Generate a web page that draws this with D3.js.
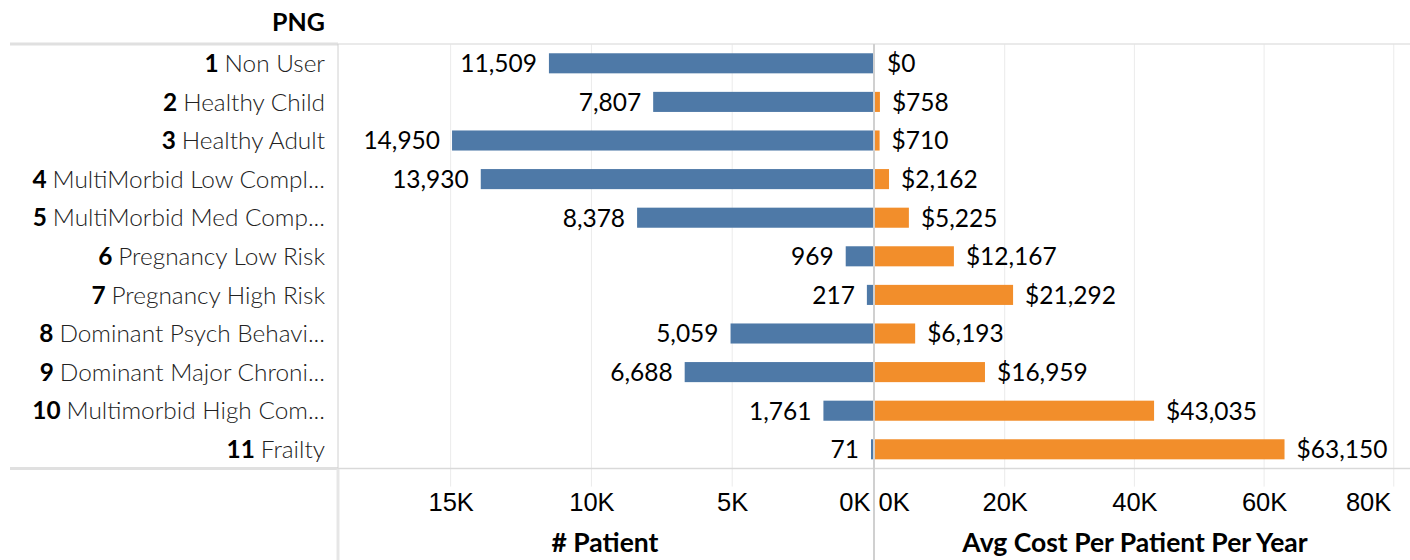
<!DOCTYPE html>
<html>
<head>
<meta charset="utf-8">
<title>PNG - Patients and Avg Cost</title>
<script src="https://cdn.jsdelivr.net/npm/d3@7"></script>
<style>
    body { margin: 0; background: #fff; }
    svg { display: block; font-family: Lato, "Open Sans", sans-serif; }
</style>
</head>
<body>
<svg id="chart" width="1410" height="560"></svg>
<script>
// Segment data
const segmentIds = ['1', '2', '3', '4', '5', '6', '7', '8', '9', '10', '11'];
const segmentNames = [
    'Non User', 'Healthy Child', 'Healthy Adult', 'MultiMorbid Low Compl...',
    'MultiMorbid Med Comp...', 'Pregnancy Low Risk', 'Pregnancy High Risk',
    'Dominant Psych Behavi...', 'Dominant Major Chroni...', 'Multimorbid High Com...', 'Frailty'
];
const patients = [11509, 7807, 14950, 13930, 8378, 969, 217, 5059, 6688, 1761, 71];
const avgCost = [0, 758, 710, 2162, 5225, 12167, 21292, 6193, 16959, 43035, 63150];
const patientTicks = [0, 5000, 10000, 15000];
const costTicks = [0, 20000, 40000, 60000, 80000];

const rows = segmentIds.map((id, i) => ({
    id: id,
    name: segmentNames[i],
    patients: patients[i],
    cost: avgCost[i]
}));

const svg = d3.select('#chart');
const plotTop = 44, plotBottom = 468.6;
const labelRight = 338, midLeft = 873, midRight = 875, plotRight = 1410;
const labelSize = 24.4;   // row labels
const valueSize = 24.5;   // bar value labels
const tickSize = 25.5;
const titleSize = 26.5;

const y = d3.scaleBand()
    .domain(segmentIds)
    .range([plotTop, plotBottom])
    .paddingInner(0.48)
    .paddingOuter(0.24);

const xLeft = d3.scaleLinear().domain([0, 19000]).range([midLeft, labelRight]);
const xRight = d3.scaleLinear().domain([0, 82500]).range([midRight, plotRight]);

const kFormat = d => (d / 1000) + 'K';
const numFormat = d3.format(',');

// Gridlines (extend a little into the axis area)
function grid(scale, ticks) {
    svg.append('g')
        .selectAll('line')
        .data(ticks.filter(t => t !== 0))
        .enter().append('line')
        .attr('x1', d => scale(d))
        .attr('x2', d => scale(d))
        .attr('y1', plotTop)
        .attr('y2', plotBottom + 18)
        .attr('stroke', '#ebebeb')
        .attr('stroke-width', 1);
}
grid(xLeft, patientTicks);
grid(xRight, costTicks);

// Frame lines
svg.append('line').attr('x1', 10).attr('x2', labelRight).attr('y1', plotTop).attr('y2', plotTop)
    .attr('stroke', '#e0e0e0').attr('stroke-width', 3);
svg.append('line').attr('x1', labelRight).attr('x2', plotRight).attr('y1', plotTop).attr('y2', plotTop)
    .attr('stroke', '#e3e3e3').attr('stroke-width', 1.5);
svg.append('line').attr('x1', 10).attr('x2', labelRight).attr('y1', plotBottom).attr('y2', plotBottom)
    .attr('stroke', '#e0e0e0').attr('stroke-width', 3);
svg.append('line').attr('x1', labelRight).attr('x2', plotRight).attr('y1', plotBottom).attr('y2', plotBottom)
    .attr('stroke', '#d9d9d9').attr('stroke-width', 1.5);
svg.append('line').attr('x1', labelRight).attr('x2', labelRight).attr('y1', plotTop).attr('y2', plotBottom)
    .attr('stroke', '#d0d0d0').attr('stroke-width', 1);
svg.append('line').attr('x1', labelRight).attr('x2', labelRight).attr('y1', plotBottom).attr('y2', 560)
    .attr('stroke', '#e6e6e6').attr('stroke-width', 3);
svg.append('line').attr('x1', 874).attr('x2', 874).attr('y1', plotTop).attr('y2', 560)
    .attr('stroke', '#d0d0d0').attr('stroke-width', 2);

// Title
svg.append('text')
    .attr('x', 325).attr('y', 31)
    .attr('text-anchor', 'end')
    .attr('font-size', 25)
    .attr('font-weight', 'bold')
    .text('PNG');

// Row labels
const labels = svg.append('g')
    .selectAll('text')
    .data(rows)
    .enter().append('text')
    .attr('x', 325)
    .attr('y', d => y(d.id) + y.bandwidth() / 2)
    .attr('dy', '0.36em')
    .attr('text-anchor', 'end')
    .attr('font-size', labelSize)
    .attr('fill', '#222');
labels.append('tspan').attr('font-weight', 'bold').attr('fill', '#000').text(d => d.id + ' ');
labels.append('tspan').attr('font-weight', 300).text(d => d.name);

// Patient bars (left)
svg.append('g')
    .selectAll('rect')
    .data(rows)
    .enter().append('rect')
    .attr('x', d => xLeft(d.patients))
    .attr('y', d => y(d.id))
    .attr('width', d => xLeft(0) - xLeft(d.patients))
    .attr('height', y.bandwidth())
    .attr('fill', '#4e79a7');

svg.append('g')
    .selectAll('text')
    .data(rows)
    .enter().append('text')
    .attr('x', d => xLeft(d.patients) - 12)
    .attr('y', d => y(d.id) + y.bandwidth() / 2)
    .attr('dy', '0.36em')
    .attr('text-anchor', 'end')
    .attr('font-size', valueSize)
    .attr('fill', '#000')
    .text(d => numFormat(d.patients));

// Cost bars (right)
svg.append('g')
    .selectAll('rect')
    .data(rows)
    .enter().append('rect')
    .attr('x', xRight(0))
    .attr('y', d => y(d.id))
    .attr('width', d => xRight(d.cost) - xRight(0))
    .attr('height', y.bandwidth())
    .attr('fill', '#f28e2b');

svg.append('g')
    .selectAll('text')
    .data(rows)
    .enter().append('text')
    .attr('x', d => xRight(d.cost) + 12)
    .attr('y', d => y(d.id) + y.bandwidth() / 2)
    .attr('dy', '0.36em')
    .attr('font-size', valueSize)
    .attr('fill', '#000')
    .text(d => '$' + numFormat(d.cost));

// Axes
function axis(scale, ticks, anchorFn) {
    const g = svg.append('g')
        .attr('transform', `translate(0,${plotBottom})`)
        .call(d3.axisBottom(scale).tickValues(ticks).tickFormat(kFormat).tickSize(0).tickPadding(0));
    g.select('.domain').remove();
    g.selectAll('text')
        .attr('y', 42)
        .attr('dy', 0)
        .attr('font-size', tickSize)
        .attr('font-family', null)
        .attr('fill', '#000')
        .attr('text-anchor', anchorFn)
        .attr('dx', d => anchorFn(d) === 'end' ? -3 : anchorFn(d) === 'start' ? 3 : 0);
}
axis(xLeft, patientTicks, d => d === 0 ? 'end' : 'middle');
axis(xRight, costTicks, d => d === 0 ? 'start' : d === 80000 ? 'end' : 'middle');

// Axis titles
svg.append('text')
    .attr('x', 605).attr('y', 552)
    .attr('text-anchor', 'middle')
    .attr('font-size', titleSize)
    .attr('font-weight', 'bold')
    .text('# Patient');
svg.append('text')
    .attr('x', 1135).attr('y', 552)
    .attr('text-anchor', 'middle')
    .attr('font-size', titleSize)
    .attr('font-weight', 'bold')
    .text('Avg Cost Per Patient Per Year');
</script>
</body>
</html>
